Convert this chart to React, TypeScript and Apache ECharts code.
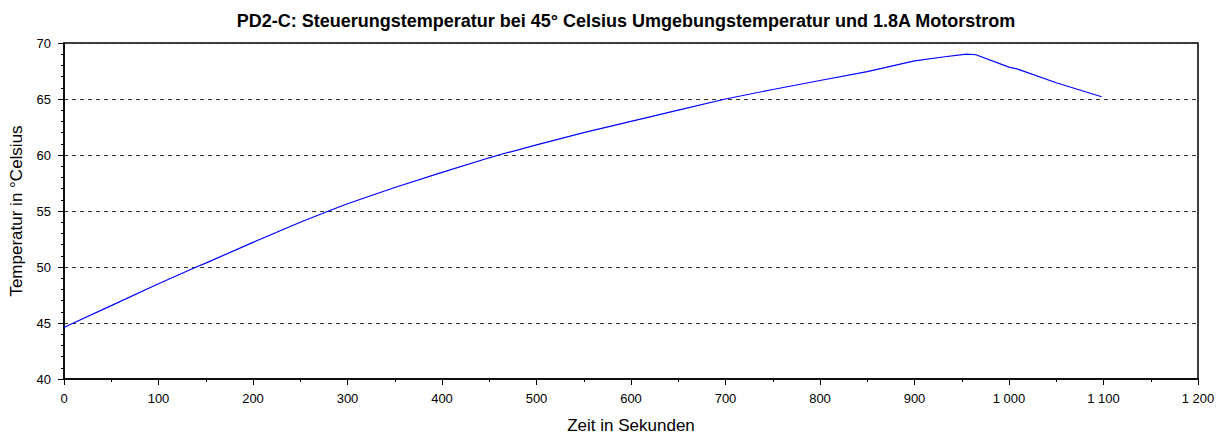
import React, { useEffect, useRef } from "react";
import * as echarts from "echarts";

const titleText = "PD2-C: Steuerungstemperatur bei 45° Celsius Umgebungstemperatur und 1.8A Motorstrom";
const xAxisName = "Zeit in Sekunden";
const yAxisName = "Temperatur in °Celsius";

const timeSec = [0, 10, 50, 100, 140, 150, 200, 250, 280, 300, 350, 400, 450, 460, 500, 550, 600, 650, 700, 750, 800, 850, 900, 930, 955, 965, 1000, 1010, 1050, 1098];
const tempC = [44.6, 45.0, 46.55, 48.5, 50.0, 50.35, 52.2, 54.0, 55.0, 55.65, 57.1, 58.45, 59.75, 60.0, 60.9, 62.0, 63.0, 64.0, 65.0, 65.85, 66.65, 67.45, 68.4, 68.75, 69.0, 68.95, 67.85, 67.65, 66.45, 65.2];

const xMin = 0, xMax = 1200, xStep = 100;
const yMin = 40, yMax = 70, yStep = 5;

const fmtThousands = (v: number) => String(v).replace(/\B(?=(\d{3})+(?!\d))/g, " ");

export default function App() {
  const ref = useRef<HTMLDivElement>(null);
  useEffect(() => {
    if (!ref.current) return;
    const chart = echarts.init(ref.current, undefined, { renderer: "svg" });
    const font = "Liberation Sans, Arial, sans-serif";
    chart.setOption({
      animation: false,
      backgroundColor: "#fff",
      title: {
        text: titleText,
        left: 621,
        top: 7,
        textAlign: "center",
        textStyle: { fontFamily: font, fontSize: 18, fontWeight: "bold", color: "#000" },
      },
      grid: {
        left: 63, right: 20, top: 43, bottom: 62,
        show: true, borderColor: "#000", borderWidth: 1.5, backgroundColor: "transparent",
      },
      xAxis: {
        type: "value",
        min: xMin, max: xMax, interval: xStep,
        name: xAxisName,
        nameLocation: "middle",
        nameGap: 38,
        nameTextStyle: { fontFamily: font, fontSize: 17, color: "#000" },
        axisLine: { show: true, lineStyle: { color: "#000", width: 1.5 } },
        axisTick: { show: true, length: 6, lineStyle: { color: "#000", width: 1 } },
        minorTick: { show: true, splitNumber: 2, length: 3, lineStyle: { color: "#000", width: 1 } },
        axisLabel: { fontFamily: font, fontSize: 13, color: "#000", margin: 13, formatter: (v: number) => fmtThousands(v) },
        splitLine: { show: false },
      },
      yAxis: {
        type: "value",
        min: yMin, max: yMax, interval: yStep,
        name: yAxisName,
        nameLocation: "middle",
        nameGap: 39,
        nameTextStyle: { fontFamily: font, fontSize: 17, color: "#000" },
        axisLine: { show: true, lineStyle: { color: "#000", width: 1.5 } },
        axisTick: { show: true, length: 6, lineStyle: { color: "#000", width: 1 } },
        minorTick: { show: true, splitNumber: 5, length: 3, lineStyle: { color: "#000", width: 1 } },
        axisLabel: { fontFamily: font, fontSize: 13, color: "#000", margin: 13 },
        splitLine: {
          show: true,
          lineStyle: { color: "#333", width: 1, type: [4, 4] },
        },
      },
      series: [
        {
          type: "line",
          data: timeSec.map((t, i) => [t, tempC[i]]),
          showSymbol: false,
          lineStyle: { color: "#0000ff", width: 1.2 },
          itemStyle: { color: "#0000ff" },
        },
      ],
    });
    return () => chart.dispose();
  }, []);
  return <div ref={ref} style={{ width: 1218, height: 441, position: "absolute", left: 0, top: 0 }} />;
}
